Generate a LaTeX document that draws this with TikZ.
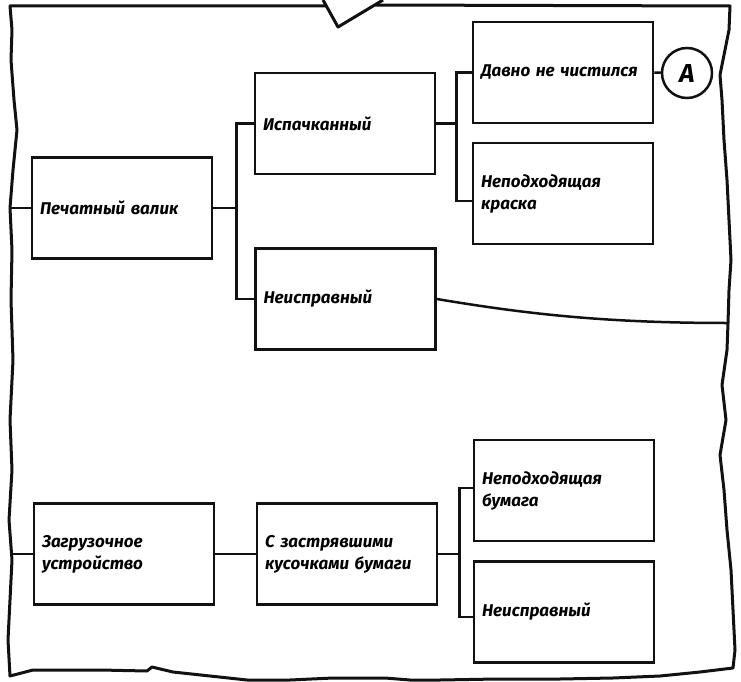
\documentclass[tikz,border=0pt]{standalone}
\usepackage{fontspec}
\setmainfont{Fira Sans}
\usepackage{xcolor}
\usetikzlibrary{positioning,calc}
\definecolor{inkline}{HTML}{111111}
\definecolor{sheet}{HTML}{FFFFFF}

\begin{document}
\begin{tikzpicture}[x=1pt,y=-1pt,
    causebox/.style={draw=inkline,fill=sheet,line width=2.5pt,text width=164pt,inner xsep=8pt,inner ysep=0pt,minimum height=101pt,align=left,font=\fontsize{17}{22}\selectfont\bfseries\itshape},
    link/.style={draw=inkline,line width=2.5pt},
    torn/.style={draw=inkline,line width=3pt,line join=round},
    refmark/.style={draw=inkline,fill=sheet,circle,line width=2.5pt,minimum size=50pt,inner sep=0pt,font=\fontsize{26}{26}\selectfont\bfseries\itshape}
]
\useasboundingbox (0,0) rectangle (741,682);
% torn sheet with the balloon tail on top
\draw[torn] (326,6) -- (10,6) -- (12,30) -- (11,60) -- (14,100) -- (17,130) -- (13,170) -- (10,208) -- (12,250) -- (11,300) -- (13,360) -- (10,420) -- (12,470) -- (9,520) -- (12,560) -- (10,600) -- (8,640) -- (10,676)
  -- (33,670) -- (100,670) -- (147,671) -- (152,667) -- (173,672) -- (247,680) -- (290,680) -- (333,678) -- (385,678) -- (410,680) -- (440,680) -- (497,679) -- (560,679) -- (613,678) -- (660,676) -- (700,672) -- (733,668)
  -- (735,650) -- (733,610) -- (731,570) -- (727,530) -- (724,490) -- (720,455) -- (726,420) -- (722,385) -- (727,350) -- (728,323) -- (729,290) -- (731,260) -- (729,220) -- (727,180) -- (724,140) -- (722,100) -- (720,75) -- (724,55) -- (729,30) -- (730,6) -- (375,5);
\draw[torn] (323,0) -- (338,27) -- (383,0);
\coordinate (edgeL1) at (11,208);
\coordinate (edgeL2) at (10,554);
\coordinate (edgeR) at (728,323);

% printing roller branch
\node[causebox] (valik) at (122,208) {Печатный валик};
\node[causebox] (dirty) at (345,123.5) {Испачканный};
\node[causebox] (broken1) at (345.5,299) {Неисправный};
\node[causebox] (notclean) at (563,72.5) {Давно не чистился};
\node[causebox] (ink) at (563,193.5) {Неподходящая\\краска};
\node[refmark] (markA) at (687,73) {A};

% feeder branch
\node[causebox] (feeder) at (124,554) {Загрузочное\\устройство};
\node[causebox] (jammed) at (347,554) {С застрявшими\\кусочками бумаги};
\node[causebox] (paper) at (564,490.5) {Неподходящая\\бумага};
\node[causebox] (broken2) at (564,612) {Неисправный};

\draw[link] (edgeL1) -- (valik.west);
\draw[link] (valik.east) -- ++(23,0) coordinate (fork1);
\draw[link] (dirty.west) -| (fork1) |- (broken1.west);
\draw[link] (dirty.east) -- ++(20,0) coordinate (fork2);
\draw[link] (notclean.west) -| (fork2) |- ([yshift=-7.5pt]ink.west);
\draw[link] (notclean.east) -- (markA);
\draw[link] (broken1.east) .. controls +(84,14) and +(-128,0) .. (edgeR);

\draw[link] (edgeL2) -- (feeder.west);
\draw[link] (feeder) -- (jammed);
\draw[link] (jammed.east) -- ++(21,0) coordinate (fork3);
\draw[link] ([yshift=2.5pt]paper.west) -| (fork3) |- ([yshift=-5pt]broken2.west);
\end{tikzpicture}
\end{document}
